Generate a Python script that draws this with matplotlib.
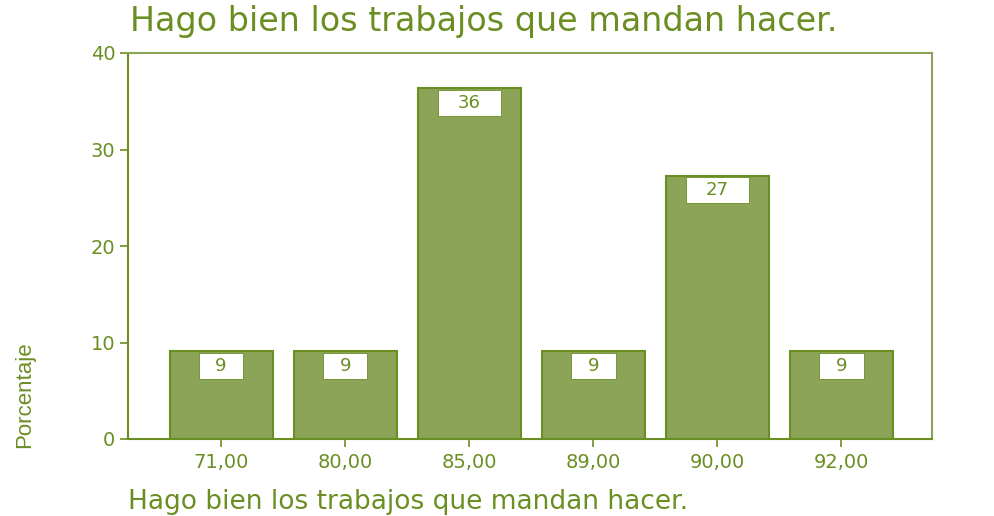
import matplotlib.pyplot as plt
from matplotlib.patches import Rectangle

# Data
categories = ["71,00", "80,00", "85,00", "89,00", "90,00", "92,00"]
percent = [9.09, 9.09, 36.36, 9.09, 27.27, 9.09]
labels = ["9", "9", "36", "9", "27", "9"]
title = "Hago bien los trabajos que mandan hacer."

fill = "#8ba457"
edge = "#6b8e23"
txt = "#6b8e23"

# wide font to mimic the stretched look of the original
plt.rcParams['font.family'] = ['DejaVu Sans']

fig = plt.figure(figsize=(9.95, 5.16), dpi=100)
ax = fig.add_axes([128/995, 1 - 439/516, (932-128)/995, (439-53)/516])

x = list(range(len(categories)))
ax.bar(x, percent, width=0.83, color=fill, edgecolor=edge, linewidth=1.5, zorder=2)

# white value boxes under the top of each bar
for xi, v, lab in zip(x, percent, labels):
    w = 0.36 if len(lab) == 1 else 0.51
    ax.add_patch(Rectangle((xi - w/2, v - 2.85), w, 2.7, facecolor='white',
                           edgecolor=edge, linewidth=0.6, zorder=3))
    ax.text(xi, v - 1.5, lab, ha='center', va='center', fontsize=13,
            color=txt, zorder=4)

ax.set_xlim(-0.75, 5.73)
ax.set_ylim(0, 40)
ax.set_yticks([0, 10, 20, 30, 40])
ax.set_xticks(x)
ax.set_xticklabels(categories)
ax.tick_params(colors=edge, labelcolor=txt, labelsize=14, length=6, width=1.2)
ax.tick_params(axis='y', pad=3)
ax.tick_params(axis='x', pad=4)
for s in ax.spines.values():
    s.set_color(edge)
    s.set_linewidth(1.5)
for s in ['top', 'right']:
    ax.spines[s].set_color('#8ba457')

fig.text(130/995, 1 - 22/516, title, fontsize=24, color=txt,
         ha='left', va='center')
fig.text(128/995, 1 - 502/516, title, fontsize=19, color=txt,
         ha='left', va='center')
fig.text(25/995, 1 - 395/516, "Porcentaje", rotation=90, fontsize=16,
         family='Liberation Sans', color=txt, ha='center', va='center')

fig.savefig("out.png", dpi=100)
